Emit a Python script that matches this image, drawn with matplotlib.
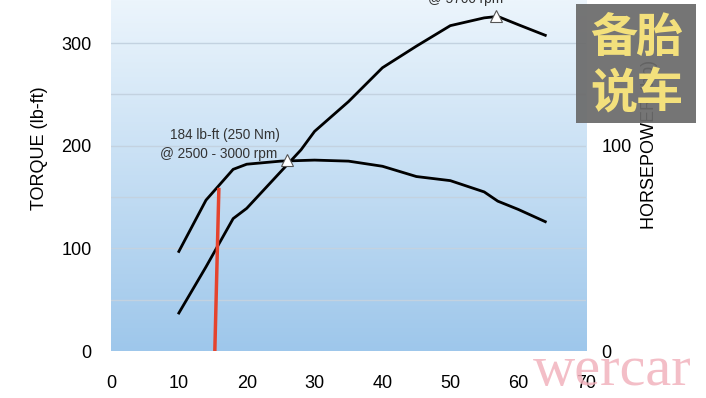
import numpy as np
import matplotlib
matplotlib.use('Agg')
import matplotlib.pyplot as plt
from matplotlib.patches import Rectangle

# engine speed in 100 rpm
rpm_torque = [10, 14, 18, 20, 25, 30, 35, 40, 45, 50, 55, 57, 60, 64]
torque = [97, 147, 177, 182, 185, 186, 185, 180, 170, 166, 155, 146, 138, 126]  # lb-ft

rpm_hp = [10, 14, 18, 20, 28, 30, 35, 40, 45, 50, 55, 57, 60, 64]
hp = [18.5, 41, 64.5, 69.5, 98, 107, 121.5, 138, 148.5, 158.5, 162.3, 163, 159, 153.8]  # hp

peak_torque = (25.9, 186)
peak_hp = (56.8, 163)
red_x = [15.3, 15.9]
red_y = [0, 159]

plt.rcParams['font.family'] = ['Liberation Sans', 'DejaVu Sans']

fig = plt.figure(figsize=(7.06, 3.98), dpi=100)
ax = fig.add_axes([111/706, 47/398, 475/706, 351/398])
ytop = 342
ax.set_xlim(0, 70)
ax.set_ylim(0, ytop)

# background gradient, near white at top to light blue at bottom
top_c = np.array([236, 245, 252]) / 255
bot_c = np.array([158, 199, 235]) / 255
t = np.linspace(0, 1, 256)[:, None]
grad = top_c * (1 - t) + bot_c * t
ax.imshow(grad[:, None, :], extent=[0, 70, 0, ytop], aspect='auto', zorder=0)

for g in [50, 100, 150, 200, 250, 300]:
    ax.axhline(g, color='#c3d2e0', lw=1, zorder=1)

ax.plot(rpm_torque, torque, color='black', lw=2, zorder=3)
ax.plot(rpm_hp, np.array(hp) * 2, color='black', lw=2, zorder=3)
ax.plot(red_x, red_y, color='#e5432d', lw=2.5, zorder=4, solid_capstyle='butt')

ax.plot(*peak_torque, marker='^', ms=9, mfc='white', mec='#555555', mew=0.8, zorder=5)
ax.plot(peak_hp[0], peak_hp[1] * 2, marker='^', ms=9, mfc='white', mec='#555555', mew=0.8, zorder=5)

ax.text(16.8, 210, '184 lb-ft (250 Nm)', ha='center', va='center', fontsize=9.8, color='#333333')
ax.text(15.8, 192, '@ 2500 - 3000 rpm', ha='center', va='center', fontsize=9.8, color='#333333')
ax.text(52.2, 343, '@ 5700 rpm', ha='center', va='center', fontsize=9.8, color='#333333', clip_on=False)

for s in ax.spines.values():
    s.set_visible(False)
ax.set_xticks(range(0, 71, 10))
ax.set_yticks([0, 100, 200, 300])
ax.tick_params(length=0, labelsize=13)
ax.tick_params(axis='x', pad=17)
ax.tick_params(axis='y', pad=14)

ax2 = ax.twinx()
ax2.set_ylim(0, ytop / 2)
ax2.set_yticks([0, 100])
ax2.tick_params(length=0, labelsize=13, pad=11)
for s in ax2.spines.values():
    s.set_visible(False)

fig.text(40/706, 1 - 148/398, 'TORQUE (lb-ft)', rotation=90, ha='center', va='center', fontsize=13)
fig.text(650/706, 1 - 144/398, 'HORSEPOWER (hp)', rotation=90, ha='center', va='center', fontsize=13)

# watermarks
fig.patches.append(Rectangle((576/706, 1 - 123/398), 120/706, 119/398, transform=fig.transFigure,
                             facecolor='#6b6b6b', alpha=0.93, zorder=10))
for ch, px, py in [('备', 614, 38), ('胎', 659, 38), ('说', 614, 93), ('车', 659, 93)]:
    fig.text(px/706, 1 - py/398, ch, ha='center', va='center', fontsize=34, fontweight='bold',
             color='#f3e07c', family=['Noto Sans CJK SC'], zorder=11)
fig.text(612/706, 1 - 371/398, 'wercar', ha='center', va='center', fontsize=42,
         color='#f2b3bd', family=['Liberation Serif'], alpha=0.85, zorder=11)

fig.savefig('out.png', dpi=100)
